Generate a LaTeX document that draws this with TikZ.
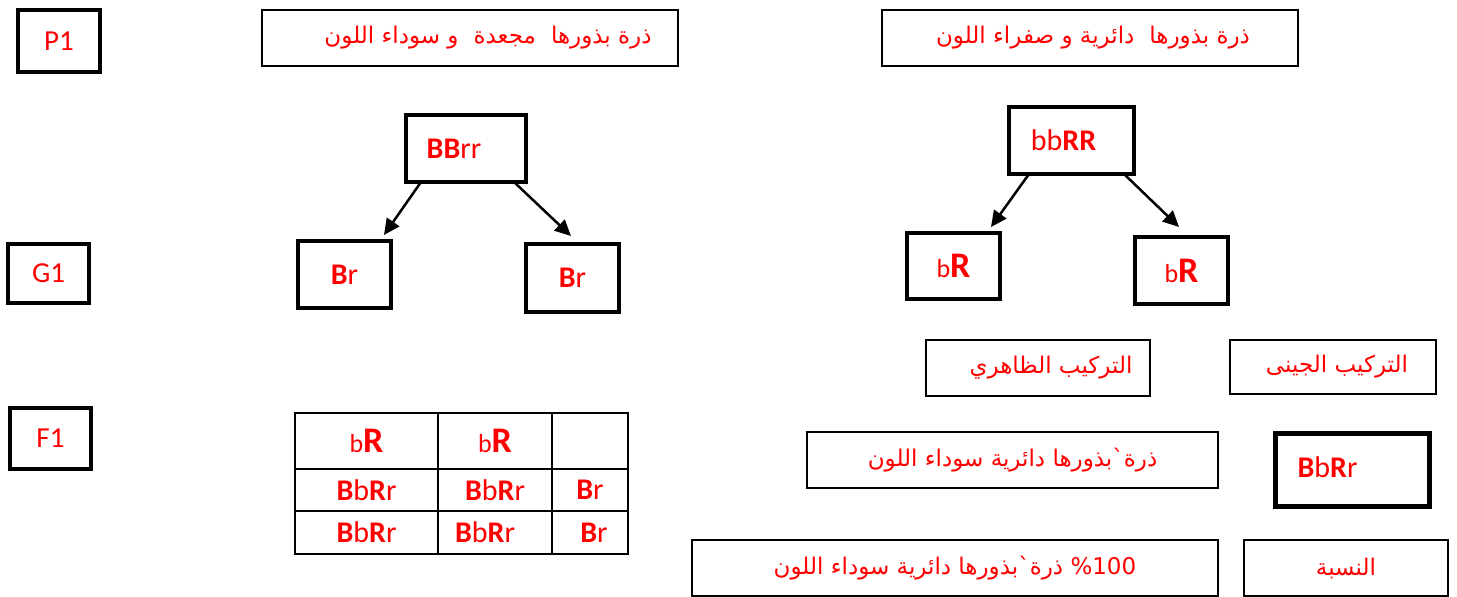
\documentclass[tikz,border=0pt]{standalone}
\usepackage{fontspec}
\setmainfont{Carlito}
\newfontfamily\arabicfont[Script=Arabic]{DejaVu Sans}
\TeXXeTstate=1
\usetikzlibrary{arrows.meta,calc}
\definecolor{txtred}{RGB}{255,0,0}

% Arabic label, set right to left
\newcommand{\artxt}[1]{{\arabicfont\fontsize{23}{26}\selectfont\beginR #1\endR}}
% wide gap between Arabic words
\newcommand{\wgap}{\hspace{15pt}}
% small lowercase b next to a large bold R
\newcommand{\smb}{{\fontsize{26}{28}\selectfont b}}
\newcommand{\bigR}{{\fontsize{36}{38}\selectfont\textbf{R}}}

\tikzset{
  base/.style={draw, inner sep=0pt, outer sep=0pt, text=txtred,
    font=\fontsize{30}{32}\selectfont},
  thickbox/.style={base, line width=4pt},
  thinbox/.style={base, line width=2pt},
  cell/.style={base, line width=2.5pt},
  arr/.style={line width=2.5pt, -{Triangle[length=16pt,width=15pt]}},
}

\begin{document}
\begin{tikzpicture}[x=1pt, y=-1pt]
\useasboundingbox (0,0) rectangle (1457,597);

% generation labels
\node[thickbox, minimum width=82pt, minimum height=62pt, font=\fontsize{29}{31}\selectfont] (p1) at (59,41) {P1};
\node[thickbox, minimum width=81pt, minimum height=59pt, font=\fontsize{29}{31}\selectfont] (g1) at (48.5,273.5) {G1};
\node[thickbox, minimum width=81pt, minimum height=61pt, font=\fontsize{29}{31}\selectfont] (f1) at (50.5,438.5) {F1};

% parent phenotypes
\node[thinbox, minimum width=416pt, minimum height=56pt] (ph1) at (470,38)
  {\hspace*{36pt}\raisebox{-3pt}{\artxt{ذرة بذورها\wgap مجعدة\wgap و سوداء اللون}}};
\node[thinbox, minimum width=416pt, minimum height=56pt] (ph2) at (1090,38)
  {\hspace*{6pt}\raisebox{-3pt}{\artxt{ذرة بذورها\wgap دائرية و صفراء اللون}}};

% first parent and its gametes
\node[thickbox, minimum width=120pt, minimum height=67pt] (pa) at (466,148.5)
  {\textbf{BB}rr\hspace*{24pt}};
\node[thickbox, minimum width=93pt, minimum height=67pt] (ga1) at (344.5,274.5) {\textbf{B}r};
\node[thickbox, minimum width=93pt, minimum height=68pt] (ga2) at (572.5,278) {\textbf{B}r};
\draw[arr] ($(pa.south west)+(15,0)$) -- ($(ga1.north west)+(86,-6)$);
\draw[arr] ($(pa.south east)+(-12,0)$) -- ($(ga2.north west)+(45,-8)$);

% second parent and its gametes
\node[thickbox, minimum width=125pt, minimum height=67pt] (pb) at (1071.5,140.5)
  {bb\textbf{RR}\hspace*{16pt}};
\node[thickbox, minimum width=93pt, minimum height=66pt] (gb1) at (953.5,266)
  {\raisebox{-8pt}{\smb\bigR}};
\node[thickbox, minimum width=93pt, minimum height=67pt] (gb2) at (1181.5,270.5)
  {\raisebox{-8pt}{\smb\bigR}};
\draw[arr] ($(pb.south west)+(20,0)$) -- ($(gb1.north west)+(84,-6)$);
\draw[arr] ($(pb.south east)+(-10,0)$) -- ($(gb2.north west)+(44,-10)$);

% offspring table
\node[cell, minimum width=143pt, minimum height=56pt] (t11) at (366.5,441) {\raisebox{-2pt}{\smb\bigR}};
\node[cell, minimum width=114pt, minimum height=56pt] (t12) at (495,441) {\raisebox{-2pt}{\smb\bigR}};
\node[cell, minimum width=76pt,  minimum height=56pt] (t13) at (590,441) {};
\node[cell, minimum width=143pt, minimum height=42pt] (t21) at (366.5,490) {\textbf{B}b\textbf{R}r};
\node[cell, minimum width=114pt, minimum height=42pt] (t22) at (495,490) {\textbf{B}b\textbf{R}r};
\node[cell, minimum width=76pt,  minimum height=42pt] (t23) at (590,490) {\textbf{B}r};
\node[cell, minimum width=143pt, minimum height=43pt] (t31) at (366.5,532.5) {\textbf{B}b\textbf{R}r};
\node[cell, minimum width=114pt, minimum height=43pt] (t32) at (495,532.5) {\textbf{B}b\textbf{R}r\hspace*{20pt}};
\node[cell, minimum width=76pt,  minimum height=43pt] (t33) at (590,532.5) {\hspace*{8pt}\textbf{B}r};

% headings
\node[thinbox, minimum width=224pt, minimum height=56pt] (hph) at (1038,368)
  {\hspace*{26pt}\artxt{التركيب الظاهري}};
\node[thinbox, minimum width=206pt, minimum height=54pt] (hgt) at (1333,367)
  {\hspace*{8pt}\artxt{التركيب الجينى}};

% offspring phenotype and genotype
\node[thinbox, minimum width=411pt, minimum height=56pt] (oph) at (1012.5,460)
  {\artxt{ذرة`بذورها دائرية سوداء اللون}};
\node[base, line width=5pt, minimum width=154pt, minimum height=73pt] (ogt) at (1352.5,470)
  {\raisebox{5pt}{\textbf{B}b\textbf{R}r}\hspace*{50pt}};

% ratio
\node[thinbox, minimum width=526pt, minimum height=56pt] (rat) at (955,568)
  {\artxt{\beginL 100\endL{}\% ذرة`بذورها دائرية سوداء اللون}};
\node[thinbox, minimum width=204pt, minimum height=56pt] (hrat) at (1346,568)
  {\artxt{النسبة}};
\end{tikzpicture}
\end{document}
